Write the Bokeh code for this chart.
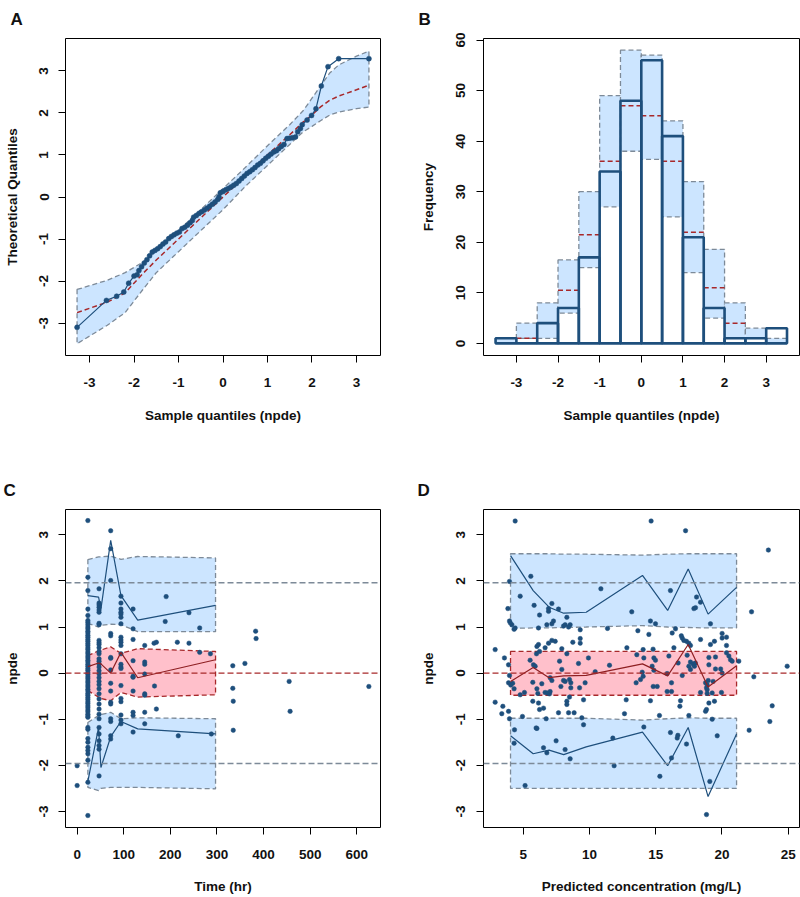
from bokeh.plotting import figure
from bokeh.models import Range1d, FixedTicker, Span
from bokeh.layouts import column, row
from bokeh.embed import file_html
from bokeh.resources import INLINE

# ---------------- Panel A : QQ plot ----------------
qq_sample = [-3.28, -2.62, -2.39, -2.23, -2.12, -2.00, -1.93,
             -1.89, -1.83, -1.77, -1.71, -1.65, -1.59, -1.53, -1.47, -1.41, -1.35,
             -1.29, -1.22, -1.16, -1.10, -1.04, -0.98, -0.92, -0.86, -0.80, -0.74,
             -0.69, -0.66, -0.60, -0.54, -0.48, -0.42, -0.36, -0.30, -0.24, -0.18,
             -0.12, -0.09, -0.06, 0.00, 0.06, 0.12, 0.18, 0.24, 0.30, 0.36,
             0.42, 0.48, 0.54, 0.60, 0.66, 0.72, 0.78, 0.84, 0.90, 0.96,
             1.02, 1.08, 1.14, 1.20, 1.25, 1.31, 1.37, 1.44, 1.50, 1.56,
             1.63, 1.68, 1.74,
             1.78, 1.89, 1.99, 2.09, 2.21, 2.36, 2.60, 3.28]
qq_theoretical = [-3.10, -2.46, -2.36, -2.26, -2.05, -1.88, -1.85,
                  -1.75, -1.66, -1.57, -1.49, -1.40, -1.31, -1.27, -1.23, -1.18, -1.12,
                  -1.07, -0.99, -0.94, -0.90, -0.86, -0.83, -0.75, -0.72, -0.67, -0.61,
                  -0.56, -0.48, -0.44, -0.39, -0.35, -0.31, -0.27, -0.22, -0.17, -0.12,
                  -0.06, 0.00, 0.10, 0.13, 0.17, 0.20, 0.24, 0.28, 0.32, 0.38,
                  0.44, 0.50, 0.56, 0.60, 0.65, 0.70, 0.76, 0.80, 0.86, 0.92,
                  0.97, 1.02, 1.07, 1.10, 1.15, 1.20, 1.25, 1.39, 1.40, 1.41,
                  1.43, 1.55, 1.63,
                  1.72, 1.83, 1.94, 2.10, 2.64, 3.10, 3.29, 3.29]
qq_band_x = [-3.28, -2.6, -2.2, -1.8, -1.5, -1.0, -0.5, 0.0, 0.5, 1.0, 1.5, 1.8, 2.0, 2.2, 2.4, 2.6, 3.0, 3.28]
qq_band_upper = [-2.20, -1.98, -1.80, -1.55, -1.27, -0.80, -0.30, 0.20, 0.70, 1.22, 1.72, 2.05, 2.35, 2.65, 2.95, 3.14, 3.35, 3.47]
qq_band_median = [-2.75, -2.50, -2.28, -1.82, -1.50, -1.00, -0.50, 0.00, 0.50, 1.00, 1.48, 1.78, 1.95, 2.15, 2.30, 2.40, 2.55, 2.66]
qq_band_lower = [-3.49, -3.05, -2.75, -2.20, -1.80, -1.30, -0.80, -0.30, 0.25, 0.75, 1.25, 1.55, 1.68, 1.82, 1.95, 2.02, 2.10, 2.14]

# ---------------- Panel B : histogram ----------------
hist_left = [-3.5, -3.0, -2.5, -2.0, -1.5, -1.0, -0.5, 0.0, 0.5, 1.0, 1.5, 2.0, 2.5, 3.0]
hist_right = [-3.0, -2.5, -2.0, -1.5, -1.0, -0.5, 0.0, 0.5, 1.0, 1.5, 2.0, 2.5, 3.0, 3.5]
hist_obs = [1, 0, 4, 7, 17, 34, 48, 56, 41, 21, 7, 1, 1, 3]
hist_pi_lower = [0, 1, 1, 6, 15, 27, 38, 36.4, 25, 14, 5, 1, 1, 0]
hist_pi_median = [0, 1, 4, 10.5, 21.5, 36, 47, 45, 36, 22, 11, 4, 1, 0]
hist_pi_upper = [1, 4, 8, 16.5, 30, 49, 58, 57, 44, 32, 18.6, 8, 3, 1]

# ---------------- Panel C : npde vs time ----------------
npde_t0 = [-2.01, -2.44]
npde_t23 = [3.31, 2.08, 1.79, 1.39, 1.25, 1.14, 1.10, 1.05, 1.00, 0.96, 0.91, 0.87, 0.82, 0.78,
            0.73, 0.69, 0.64, 0.60, 0.55, 0.51, 0.46, 0.42, 0.37, 0.33, 0.28, 0.24, 0.19, 0.15,
            0.10, 0.06, 0.01, -0.03, -0.08, -0.12, -0.17, -0.21, -0.26, -0.30, -0.35, -0.39,
            -0.44, -0.48, -0.53, -0.57, -0.62, -0.66, -0.71, -0.75, -0.80, -0.84, -0.89, -0.93,
            -0.96, -1.18, -1.22, -1.42, -1.50, -1.61, -1.68, -1.75, -1.89, -2.37, -3.09]
npde_t47 = [1.83, 1.52, 1.48, 1.43, 1.37, 1.32, 1.08, 1.05, 0.71, 0.66, 0.62, 0.55, 0.47, 0.42,
            0.31, 0.26, 0.20, 0.13, 0.05, -0.02, -0.10, -0.18, -0.25, -0.34, -0.45, -0.56,
            -0.67, -0.78, -0.89, -0.99, -1.18, -1.32, -1.47, -1.57, -1.65, -2.23]
npde_t72 = [3.09, 2.70, 2.01, 0.86, 0.81, 0.34, 0.32, 0.07, -0.22, -0.39, -0.63, -0.67, -0.99, -1.05, -1.36, -1.43]
npde_t94 = [1.67, 1.52, 1.39, 1.32, 1.28, 1.21, 1.07, 0.78, 0.72, 0.67, 0.60, 0.42, 0.19, 0.13,
            0.10, -0.27, -0.55, -0.62, -0.91, -1.02, -1.10]
npde_t120 = [1.39, 0.96, 0.73, 0.27, -0.07, -0.09, -0.39, -0.85, -0.92, -1.28]
npde_t145 = [0.60, 0.24, 0.19, -0.02, -0.45, -0.48, -0.85, -1.10]
late_time = [165, 170, 166, 170, 191, 189, 215, 217, 240, 240, 263, 263, 286, 288,
             334, 334, 335, 335, 360, 383, 384, 455, 457, 626]
late_npde = [0.65, 0.67, -0.28, -0.78, 1.66, 1.12, 0.67, -1.36, 1.31, 0.65, 0.98, 0.45, 0.42, -1.32,
             0.16, -0.33, -0.61, -1.24, 0.21, 0.91, 0.75, -0.18, -0.83, -0.29]
c_bin_time = [23, 46, 51, 72, 94, 130, 297]
c_hi_top = [2.46, 2.52, 2.52, 2.54, 2.47, 2.53, 2.50]
c_hi_bot = [1.08, 1.00, 1.04, 1.06, 1.05, 0.90, 0.90]
c_med_top = [0.38, 0.48, 0.50, 0.57, 0.43, 0.53, 0.47]
c_med_bot = [-0.38, -0.52, -0.55, -0.60, -0.42, -0.52, -0.47]
c_lo_top = [-1.07, -0.92, -0.90, -0.85, -0.99, -0.97, -0.99]
c_lo_bot = [-2.48, -2.55, -2.50, -2.48, -2.48, -2.48, -2.51]
c_obs_hi = [1.68, 1.65, 1.39, 2.88, 1.68, 1.15, 1.47]
c_obs_med = [0.14, 0.22, 0.20, 0.00, 0.45, -0.10, 0.29]
c_obs_lo = [-2.35, -1.18, -2.05, -1.38, -1.05, -1.21, -1.32]

# ---------------- Panel D : npde vs predicted concentration ----------------
d_conc = [4.39, 2.88, 3.58, 3.96, 3.84, 3.96, 4.14, 4.02, 4.39, 4.31, 4.77, 5.57, 5.82, 6.23, 6.15,
          6.91, 6.91, 7.16, 7.66, 6.78, 7.16, 7.28, 8.29, 8.04, 8.16, 8.54, 8.42, 9.30, 9.30, 9.30,
          10.86, 11.36, 13.19, 13.65, 3.89, 3.96, 3.89, 4.06, 4.31, 4.20, 2.88, 3.46, 3.38, 3.89,
          3.96, 4.34, 4.31, 4.77, 5.09, 4.94, 5.52, 5.77, 5.90, 5.72, 6.03, 6.10, 5.72, 6.15, 6.23,
          6.03, 6.03, 6.15, 6.65, 6.00, 6.23, 6.91, 7.16, 7.41, 6.40, 6.65, 6.83, 6.98, 7.03, 6.53,
          6.73, 7.03, 7.16, 7.74, 7.91, 8.29, 7.66, 7.91, 8.04, 8.16, 8.49, 8.59, 7.84, 8.59, 8.29,
          8.29, 8.49, 8.42, 8.84, 8.74, 9.17, 9.25, 9.55, 9.42, 9.55, 9.92, 9.67, 10.43, 11.51,
          12.82, 12.77, 12.64, 13.52, 13.57, 5.14, 5.97, 6.53, 6.78, 7.48, 8.16, 8.54, 11.86, 11.76,
          14.65, 17.25, 23.50, 16.11, 18.08, 18.38, 17.88, 18.00, 19.13, 22.23, 14.60, 14.98, 14.48,
          16.24, 16.49, 17.00, 16.93, 17.12, 17.32, 17.50, 17.62, 18.38, 19.13, 19.43, 20.01, 20.01,
          20.34, 20.34, 16.37, 14.05, 14.80, 17.37, 20.34, 15.99, 14.10, 14.86, 14.98, 16.69, 17.62,
          17.82, 17.99, 17.92, 19.01, 19.51, 19.01, 20.52, 20.64, 20.77, 21.27, 24.92, 13.98, 14.86,
          14.73, 15.86, 17.50, 17.62, 19.90, 20.01, 19.51, 14.05, 13.85, 17.00, 18.96, 18.76, 18.88,
          19.33, 22.40, 14.81, 15.11, 16.19, 18.83, 18.88, 18.38, 18.88, 19.26, 15.86, 16.19, 19.96,
          14.60, 16.87, 16.82, 18.83, 18.76, 19.01, 19.43, 15.28, 17.50, 19.26, 23.79, 23.61, 22.05,
          14.10, 16.11, 16.62, 16.67, 17.32, 16.19, 19.64, 15.31, 19.08, 18.83]
d_npde = [3.30, 0.51, 0.33, 1.99, 1.40, 1.13, 1.05, 1.09, 0.98, 0.95, 1.67, 2.10, 1.47, 1.26, 0.98,
          1.34, 1.40, 1.51, 1.39, 1.05, 1.07, 1.13, 1.21, 1.02, 1.05, 1.05, 1.00, 0.94, 0.75, 0.65,
          1.83, 0.97, 1.33, 0.92, 0.18, -0.05, -0.21, -0.26, -0.34, -0.22, -0.63, -0.72, -0.88, -0.83,
          -0.99, -1.23, -1.52, -0.47, -0.42, -0.94, 0.28, 0.18, 0.15, -0.20, -0.34, -0.44, -0.61, -0.65, -0.79,
          -1.20, 0.58, 0.62, 0.55, 0.42, 0.47, 0.65, 0.71, 0.69, -0.23, -0.42, -0.43, -0.45, -0.40, -0.76,
          -0.99, -0.10, -0.16, 0.26, 0.53, 0.42, -0.86, 0.08, -0.16, -0.18, -0.14, -0.21, -0.29, -0.32, -0.61,
          -0.68, -0.52, -0.86, -0.86, 0.67, 0.21, -0.32, -0.58, -0.97, -1.12, 0.33, -0.21, 0.03, 0.17,
          0.55, -0.58, -0.88, -0.21, 0.40, -2.44, -1.19, -1.62, -1.73, -1.47, -1.66, -1.86, -2.01, -1.41,
          3.30, 3.09, 2.67, 1.79, 1.65, 1.54, 1.40, 1.42, 1.07, 1.33, 1.13, 1.07, 0.84,
          0.87, 0.96, 0.76, 0.81, 0.71, 0.69, 0.65, 0.60, 0.73, 0.62, 0.69, 0.86, 0.76,
          0.78, 0.60, 0.55, 0.51, 0.52, 0.39, 0.44, 0.37, 0.33, 0.33, 0.28, 0.22, 0.24,
          0.20, 0.22, 0.15, 0.34, 0.35, 0.18, 0.37, 0.29, 0.26, 0.26, 0.15, 0.02, 0.06,
          0.15, -0.01, 0.15, 0.08, 0.09, 0.00, 0.09, -0.07, -0.14, -0.05, -0.16, -0.21, -0.25,
          -0.18, -0.08, -0.29, -0.29, -0.21, -0.32, -0.36, -0.42, -0.44, -0.43, -0.40, -0.40, -0.42,
          -0.60, -0.60, -0.72, -0.79, -0.83, -0.65, -0.61, -0.92, -0.92, -1.00, -0.71, -1.05, -1.24,
          -1.17, -1.29, -1.41, -1.35, -1.54, -1.84, -1.36, -2.24, -2.35, -3.07]
d_bin_conc = [4.04, 5.75, 6.95, 8.05, 9.75, 14.0, 15.9, 17.45, 18.95, 21.1]
d_hi_top = [2.59, 2.59, 2.59, 2.58, 2.58, 2.56, 2.58, 2.59, 2.59, 2.59]
d_hi_bot = [0.97, 0.98, 0.98, 0.99, 1.00, 1.03, 1.00, 0.99, 0.98, 0.98]
d_med_top = [0.47, 0.47, 0.47, 0.47, 0.47, 0.47, 0.47, 0.47, 0.47, 0.47]
d_med_bot = [-0.48, -0.48, -0.48, -0.48, -0.48, -0.48, -0.48, -0.48, -0.48, -0.48]
d_lo_top = [-0.98, -0.98, -0.98, -0.98, -0.98, -1.02, -0.99, -0.97, -0.98, -0.98]
d_lo_bot = [-2.50, -2.50, -2.50, -2.50, -2.50, -2.50, -2.50, -2.50, -2.50, -2.50]
d_obs_hi = [2.55, 1.79, 1.43, 1.30, 1.32, 2.12, 1.36, 2.26, 1.28, 1.86]
d_obs_med = [-0.18, 0.12, -0.10, -0.06, -0.05, 0.20, -0.06, 0.62, -0.30, 0.16]
d_obs_lo = [-1.36, -1.75, -1.67, -1.77, -1.60, -1.28, -2.01, -1.18, -2.68, -1.32]

# ---------------- styling ----------------
BLUE_FILL = "#CCE5FF"
PINK_FILL = "#FFC0CB"
GRAY_DASH = "#7D8A98"
RED_DASH = "#A8282A"
PT = "#1E4F7C"
LINE_RED = "#8E1F22"
FONT = "Liberation Sans"
DASH = "5 3"


def make_fig(w, h, left, right, top, bottom, xr, yr):
    p = figure(width=w, height=h, x_range=Range1d(*xr), y_range=Range1d(*yr),
               output_backend="svg", toolbar_location=None, tools="")
    p.min_border_left = left
    p.min_border_right = right
    p.min_border_top = top
    p.min_border_bottom = bottom
    p.outline_line_color = "black"
    p.outline_line_width = 1
    p.outline_line_alpha = 1
    p.xgrid.visible = False
    p.ygrid.visible = False
    p.background_fill_color = "white"
    p.border_fill_color = "white"
    return p


def hyphen_labels(ticks):
    return {t: str(t) for t in ticks}


def style_axes(p, xticks, yticks, xlabel, ylabel, xlab_standoff, ylab_standoff, ytick_standoff):
    for ax in (p.xaxis[0], p.yaxis[0]):
        ax.axis_line_color = None
        ax.major_tick_in = 0
        ax.major_tick_out = 7
        ax.major_tick_line_color = "black"
        ax.major_tick_line_width = 1
        ax.minor_tick_line_color = None
        ax.major_label_text_font = FONT
        ax.major_label_text_font_style = "bold"
        ax.major_label_text_font_size = "13.5px"
        ax.major_label_text_color = "#111111"
        ax.axis_label_text_font = FONT
        ax.axis_label_text_font_style = "bold"
        ax.axis_label_text_font_size = "13.5px"
        ax.axis_label_text_color = "#111111"
    p.xaxis[0].ticker = FixedTicker(ticks=xticks)
    p.yaxis[0].ticker = FixedTicker(ticks=yticks)
    p.xaxis[0].major_label_overrides = hyphen_labels(xticks)
    p.yaxis[0].major_label_overrides = hyphen_labels(yticks)
    p.xaxis[0].major_label_standoff = 15
    p.yaxis[0].major_label_standoff = ytick_standoff
    p.yaxis[0].major_label_orientation = "vertical"
    p.xaxis[0].axis_label = xlabel
    p.yaxis[0].axis_label = ylabel
    p.xaxis[0].axis_label_standoff = xlab_standoff
    p.yaxis[0].axis_label_standoff = ylab_standoff


def panel_title(p, text, offset, standoff):
    p.title.text = text
    p.title.align = "left"
    p.title.vertical_align = "top"
    p.title.offset = offset
    p.title.standoff = standoff
    p.title.text_font = FONT
    p.title.text_font_style = "bold"
    p.title.text_font_size = "17px"
    p.title.text_color = "#111111"


def band(p, xs, top, bot, fill, line):
    p.patch(x=list(xs) + list(xs)[::-1], y=list(top) + list(bot)[::-1],
            fill_color=fill, line_color=line, line_dash=DASH, line_width=1.3)


# ---- A ----
pA = make_fig(400, 440, 65, 20, 38, 85, (-3.54, 3.54), (-3.77, 3.77))
band(pA, qq_band_x, qq_band_upper, qq_band_lower, BLUE_FILL, GRAY_DASH)
pA.line(qq_band_x, qq_band_median, line_color=RED_DASH, line_dash=DASH, line_width=1.5)
pA.line(qq_sample, qq_theoretical, line_color=PT, line_width=1.2)
pA.scatter(qq_sample, qq_theoretical, marker="circle", size=5, fill_color=PT, line_color=PT, line_width=0.5)
style_axes(pA, [-3, -2, -1, 0, 1, 2, 3], [-3, -2, -1, 0, 1, 2, 3],
           "Sample quantiles (npde)", "Theoretical Quantiles", 18, 17, 10)
panel_title(pA, "A", -55, 16)

# ---- B ----
pB = make_fig(400, 440, 83, 1, 38, 85, (-3.79, 3.80), (-2.4, 60.3))
pB.quad(left=hist_left, right=hist_right, bottom=hist_pi_lower, top=hist_pi_upper,
        fill_color=BLUE_FILL, line_color=GRAY_DASH, line_dash=DASH, line_width=1.3)
pB.segment(x0=hist_left, y0=hist_pi_median, x1=hist_right, y1=hist_pi_median,
           line_color=RED_DASH, line_dash=DASH, line_width=1.5)
pB.quad(left=hist_left, right=hist_right, bottom=[0] * len(hist_obs), top=hist_obs,
        fill_color=None, line_color=PT, line_width=2.6)
style_axes(pB, [-3, -2, -1, 0, 1, 2, 3], [0, 10, 20, 30, 40, 50, 60],
           "Sample quantiles (npde)", "Frequency", 18, 18, 11)
panel_title(pB, "B", -65, 16)

# ---- C ----
pC = make_fig(400, 457, 65, 20, 69, 70, (-25, 651), (-3.35, 3.55))
band(pC, c_bin_time, c_hi_top, c_hi_bot, BLUE_FILL, GRAY_DASH)
band(pC, c_bin_time, c_lo_top, c_lo_bot, BLUE_FILL, GRAY_DASH)
band(pC, c_bin_time, c_med_top, c_med_bot, PINK_FILL, RED_DASH)
for yv, col in ((1.96, GRAY_DASH), (-1.96, GRAY_DASH), (0, RED_DASH)):
    pC.add_layout(Span(location=yv, dimension="width", line_color=col, line_dash="6 3", line_width=1.4))
c_time = ([0] * len(npde_t0) + [23] * len(npde_t23) + [47] * len(npde_t47) + [72] * len(npde_t72)
          + [94] * len(npde_t94) + [120] * len(npde_t120) + [145] * len(npde_t145) + late_time)
c_npde = npde_t0 + npde_t23 + npde_t47 + npde_t72 + npde_t94 + npde_t120 + npde_t145 + late_npde
pC.scatter(c_time, c_npde, marker="circle", size=4.5, fill_color=PT, line_color=PT, line_width=0.5)
pC.line(c_bin_time, c_obs_hi, line_color=PT, line_width=1.2)
pC.line(c_bin_time, c_obs_lo, line_color=PT, line_width=1.2)
pC.line(c_bin_time, c_obs_med, line_color=LINE_RED, line_width=1.2)
style_axes(pC, [0, 100, 200, 300, 400, 500, 600], [-3, -2, -1, 0, 1, 2, 3],
           "Time (hr)", "npde", 17, 17, 10)
panel_title(pC, "C", -62, 15)

# ---- D ----
pD = make_fig(400, 457, 83, 1, 69, 70, (2.0, 25.85), (-3.35, 3.55))
band(pD, d_bin_conc, d_hi_top, d_hi_bot, BLUE_FILL, GRAY_DASH)
band(pD, d_bin_conc, d_lo_top, d_lo_bot, BLUE_FILL, GRAY_DASH)
band(pD, d_bin_conc, d_med_top, d_med_bot, PINK_FILL, RED_DASH)
for yv, col in ((1.96, GRAY_DASH), (-1.96, GRAY_DASH), (0, RED_DASH)):
    pD.add_layout(Span(location=yv, dimension="width", line_color=col, line_dash="6 3", line_width=1.4))
pD.scatter(d_conc, d_npde, marker="circle", size=4.5, fill_color=PT, line_color=PT, line_width=0.5)
pD.line(d_bin_conc, d_obs_hi, line_color=PT, line_width=1.2)
pD.line(d_bin_conc, d_obs_lo, line_color=PT, line_width=1.2)
pD.line(d_bin_conc, d_obs_med, line_color=LINE_RED, line_width=1.2)
style_axes(pD, [5, 10, 15, 20, 25], [-3, -2, -1, 0, 1, 2, 3],
           "Predicted concentration (mg/L)", "npde", 17, 18, 11)
panel_title(pD, "D", -66, 15)

layout = column(row(pA, pB), row(pC, pD))
open("out.html", "w").write(file_html(layout, INLINE))
